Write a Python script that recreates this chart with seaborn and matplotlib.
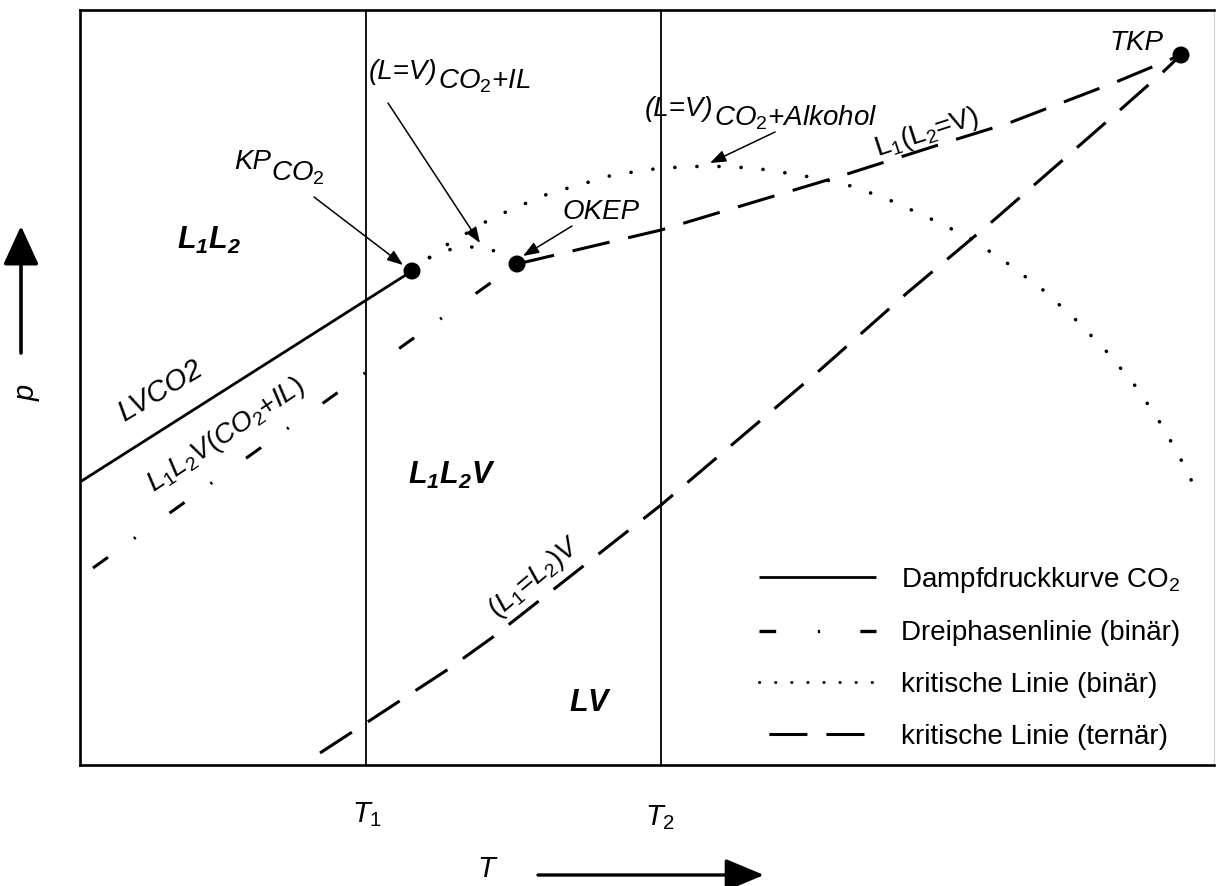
import numpy as np
import pandas as pd
import matplotlib
matplotlib.use("Agg")
import matplotlib.pyplot as plt
from matplotlib.lines import Line2D
import seaborn as sns

# Schematic p-T projection (arbitrary units, T to the right, p upwards)
T_MAX, P_MAX = 1134, 755
T1, T2 = 286, 581

# characteristic points: critical point of CO2, upper critical end point, tricritical point
KP = (332, 494)
OKEP = (437, 501)
TKP = (1101, 710)

# vapour pressure curve of CO2
co2_T = [0, 332]
co2_p = [283, 494]

# three-phase line L1L2V of the binary CO2 + IL
three_T = [13, 437]
three_p = [197, 501]

# binary critical line CO2 + IL
crit_il_T = [332, 348, 361, 376, 391, 406, 420, 437]
crit_il_p = [494, 507, 513, 517, 518, 517, 512, 501]

# binary critical line CO2 + Alkohol
crit_alc_T = [332, 368, 387, 407, 428, 449, 470, 492, 533, 581, 628, 674, 719, 762,
              805, 847, 888, 927, 963, 996, 1028, 1057, 1083, 1105, 1115]
crit_alc_p = [494, 521, 532, 544, 554, 563, 572, 578, 590, 597, 599, 597, 590, 582,
              567, 548, 528, 502, 475, 445, 412, 377, 338, 298, 277]

# ternary critical line L1(L2=V): from OKEP to TKP
tern_up_T = [437, 581, 764, 874, 929, 1036, 1101]
tern_up_p = [501, 535, 590, 625, 642, 683, 710]

# ternary critical line (L1=L2)V ending in TKP
tern_lo_T = [240, 286, 367, 413, 581, 654, 740, 827, 914, 992, 1040, 1083, 1101]
tern_lo_p = [12, 42, 95, 128, 260, 322, 395, 472, 545, 613, 655, 693, 710]

legend_labels = ["Dampfdruckkurve CO$_2$", "Dreiphasenlinie (binär)",
                 "kritische Linie (binär)", "kritische Linie (ternär)"]

sns.set_theme(style="white")
plt.rcParams.update({
    "font.family": ["Liberation Sans", "DejaVu Sans"],
    "text.color": "black",
    "mathtext.fontset": "custom",
    "mathtext.rm": "Liberation Sans",
    "mathtext.it": "Liberation Sans:italic",
    "mathtext.bf": "Liberation Sans:bold:italic",
    "lines.scale_dashes": False,
})

fig = plt.figure(figsize=(12.17, 8.86), dpi=100)
ax = fig.add_axes([80 / 1217, 121 / 886, 1134 / 1217, 755 / 886])
ax.set_xlim(0, T_MAX)
ax.set_ylim(0, P_MAX)
ax.set_xticks([])
ax.set_yticks([])
for side in ("left", "bottom", "top"):
    ax.spines[side].set_linewidth(1.9)
    ax.spines[side].set_color("black")
ax.spines["right"].set_linewidth(0.8)
ax.spines["right"].set_color("#d0d0d0")

# isotherms T1 and T2
ax.axvline(T1, color="black", lw=1.3, zorder=1)
ax.axvline(T2, color="black", lw=1.3, zorder=1)

DOT = (0, (0.1, 15.8))
DASHDOT = (0, (13.3, 23, 1.5, 30))
DASH = (0, (27.4, 13.7))


def curve(T, p, ls, lw, cap="butt"):
    df = pd.DataFrame({"T": T, "p": p})
    sns.lineplot(data=df, x="T", y="p", sort=False, estimator=None,
                 color="black", lw=lw, ax=ax, zorder=3)
    line = ax.lines[-1]
    line.set_linestyle(ls)
    line.set_dash_capstyle(cap)
    line.set_solid_capstyle("butt")
    return line


curve(co2_T, co2_p, "-", 2.0)
curve(three_T, three_p, DASHDOT, 2.2)
curve(crit_il_T, crit_il_p, DOT, 2.6, cap="round")
curve(crit_alc_T, crit_alc_p, DOT, 2.6, cap="round")
curve(tern_up_T, tern_up_p, DASH, 2.2)
curve(tern_lo_T, tern_lo_p, DASH, 2.2)

pts = pd.DataFrame({"T": [KP[0], OKEP[0], TKP[0]], "p": [KP[1], OKEP[1], TKP[1]]})
sns.scatterplot(data=pts, x="T", y="p", s=150, color="black",
                edgecolor="none", ax=ax, zorder=5)
ax.set_xlabel("")
ax.set_ylabel("")

FS = 20
ital = dict(fontsize=FS, style="italic", color="black")


def arrow(start, end, lw=1.1, scale=12, hl=0.8, hw=0.3):
    ax.annotate("", xy=end, xytext=start, xycoords="data", textcoords="data",
                annotation_clip=False,
                arrowprops=dict(arrowstyle=f"-|>,head_length={hl},head_width={hw}",
                                color="black", lw=lw, shrinkA=0, shrinkB=0,
                                mutation_scale=scale))


def chained(x, y, parts, **kw):
    prev = ax.text(x, y, parts[0][0], ha="left", va="center", **kw)
    for s, dy in parts[1:]:
        prev = ax.annotate(s, xy=(1, 0.5), xycoords=prev, xytext=(0, dy),
                           textcoords="offset points", ha="left", va="center", **kw)
    return prev


# point labels with their pointers
chained(154, 603, [("KP", 0), (r"CO$_\mathit{2}$", -8)], **ital)
arrow((234, 568), (323, 500))
chained(289, 693, [("(L=V)", 0), (r"CO$_\mathit{2}$+IL", -7)], **ital)
arrow((308, 662), (400, 522))
ax.text(482, 553, "OKEP", ha="left", va="center", **ital)
arrow((492, 539), (443, 509))
chained(565, 656, [("(L=V)", 0), (r"CO$_\mathit{2}$+Alkohol", -6)], **ital)
arrow((695, 633), (630, 602))
ax.text(1057, 722, "TKP", ha="center", va="center", **ital)

# labels along the curves
ax.text(80, 374, "LVCO2", rotation=31, ha="center", va="center", fontsize=21,
        style="italic")
ax.text(146, 330, r"$L_1L_2V(CO_2$+$IL)$", rotation=34, ha="center", va="center",
        fontsize=FS)
ax.text(455, 187, r"$(L_1$=$L_2)V$", rotation=40, ha="center", va="center",
        fontsize=FS)
ax.text(847, 632, r"$\mathrm{L_1(L_2}$=$\mathrm{V)}$", rotation=18, ha="center",
        va="center", fontsize=FS)

# phase regions
ax.text(129, 525, r"$\mathbf{L_1L_2}$", ha="center", va="center", fontsize=22)
ax.text(372, 290, r"$\mathbf{L_1L_2V}$", ha="center", va="center", fontsize=22)
ax.text(511, 62, r"$\mathbf{LV}$", ha="center", va="center", fontsize=22)

# axis annotations below and left of the frame
ax.text(287, -50, r"$\mathit{T_1}$", ha="center", va="center", fontsize=21)
ax.text(580, -53, r"$\mathit{T_2}$", ha="center", va="center", fontsize=21)
ax.text(408, -104, r"$\mathit{T}$", ha="center", va="center", fontsize=21)
arrow((458, -110), (684, -110), lw=2.4, scale=20, hl=1.2, hw=0.5)
ax.text(-52, 373, r"$\mathit{p}$", rotation=90, ha="center", va="center", fontsize=21)
arrow((-59, 412), (-59, 539), lw=2.6, scale=20, hl=1.2, hw=0.55)

# legend with its own line samples
handles = [
    Line2D([], [], color="black", lw=2.0, solid_capstyle="butt"),
    Line2D([], [], color="black", lw=2.4, linestyle=(0, (12, 30, 1.6, 29)),
           dash_capstyle="butt"),
    Line2D([], [], color="black", lw=2.2, linestyle=(0, (0.1, 11.5)),
           dash_capstyle="round"),
    Line2D([], [], color="black", lw=2.2, linestyle=(34, (27.4, 13.7)),
           dash_capstyle="butt"),
]
ax.legend(handles, legend_labels, loc="upper left",
          bbox_to_anchor=(0.599, 0.265), frameon=False, fontsize=FS,
          handlelength=4.2, handletextpad=0.9, labelspacing=0.92,
          borderpad=0, borderaxespad=0)

fig.savefig("out.png", dpi=100)
